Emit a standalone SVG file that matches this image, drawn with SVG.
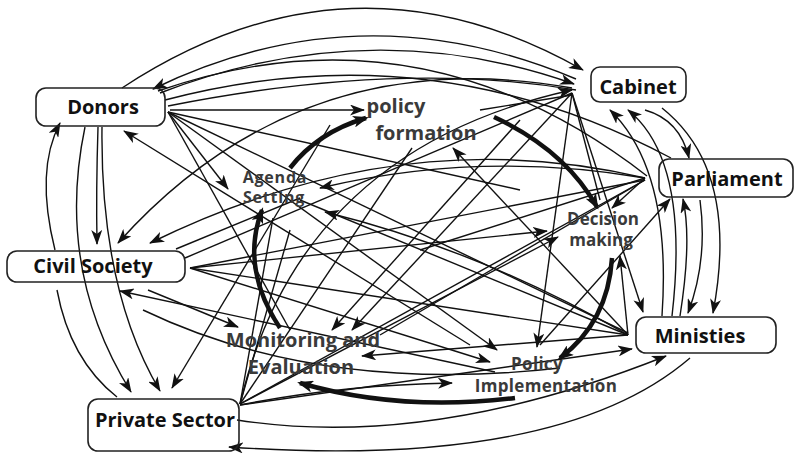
<svg xmlns="http://www.w3.org/2000/svg" width="794" height="457" viewBox="0 0 794 457">
  <style>
    .c { fill: none; stroke: #111; stroke-width: 1.4; }
    .a { marker-end: url(#ah); }
    .k { fill: none; stroke: #111; stroke-width: 4.5; marker-end: url(#ak); }
    .box { fill: none; stroke: #222; stroke-width: 1.6; }
    .actor { font-family: "Open Sans", "Liberation Sans", sans-serif; font-weight: 700; font-size: 20px; fill: #111; text-anchor: middle; }
    .stage { font-family: "Open Sans", "Liberation Sans", sans-serif; font-weight: 700; fill: #3a3a3a; text-anchor: middle; }
  </style>
  <defs>
    <marker id="ah" viewBox="0 0 15 11" refX="14" refY="5.5" markerWidth="15" markerHeight="11" orient="auto" markerUnits="userSpaceOnUse">
      <path d="M0,0 L15,5.5 L0,11 L4,5.5 Z" fill="#111"/>
    </marker>
    <marker id="ak" viewBox="0 0 16 12" refX="13" refY="6" markerWidth="16" markerHeight="12" orient="auto" markerUnits="userSpaceOnUse">
      <path d="M0,0 L16,6 L0,12 L4,6 Z" fill="#111"/>
    </marker>
  </defs>
  <rect width="794" height="457" fill="#fff"/>

  <g id="connectors">
    <!-- Donors -->
    <path class="c a" d="M122,88 Q350,-62 583,70"/>
    <path class="c a" d="M576,79 Q360,-12 153,89"/>
    <path class="c a" d="M160,93 Q370,12 574,84"/>
    <path class="c" d="M647,176 Q420,0 158,91"/>
    <path class="c" d="M165,100 Q430,30 671,158"/>
    <path class="c" d="M168,106 Q400,60 576,90"/>
    <path class="c a" d="M170,110 L364,110"/>
    <path class="c a" d="M168,112 L228,189"/>
    <path class="c" d="M168,112 L520,190"/>
    <path class="c a" d="M168,112 L497,350"/>
    <path class="c" d="M168,112 L628,333"/>
    <path class="c" d="M168,112 L290,330"/>
    <path class="c a" d="M85,127 Q55,270 131,392"/>
    <path class="c a" d="M98,127 Q96,190 97,244"/>
    <path class="c a" d="M102,127 Q100,290 160,391"/>
    <path class="c a" d="M55,250 Q35,170 60,123"/>
    <path class="c" d="M57,290 Q70,360 117,397"/>
    <path class="c a" d="M470,345 L124,131"/>
    <!-- Civil Society -->
    <path class="c a" d="M190,268 L547,231"/>
    <path class="c" d="M190,268 L645,180"/>
    <path class="c a" d="M148,290 L238,327"/>
    <path class="c a" d="M190,268 L490,362"/>
    <path class="c" d="M190,268 L628,335"/>
    <path class="c" d="M176,249 L300,198"/>
    <path class="c a" d="M495,372 Q300,330 120,291"/>
    <path class="c" d="M143,310 Q320,395 560,368"/>
    <path class="c" d="M185,258 L572,93"/>
    <!-- Private Sector -->
    <path class="c" d="M240,404 L273,218"/>
    <path class="c" d="M240,404 L290,230"/>
    <path class="c a" d="M240,404 L558,237"/>
    <path class="c" d="M240,404 L645,180"/>
    <path class="c a" d="M240,405 Q340,385 452,383"/>
    <path class="c a" d="M240,405 L632,349"/>
    <path class="c a" d="M237,420 Q430,450 666,356"/>
    <path class="c a" d="M690,358 Q560,470 229,447"/>
    <path class="c" d="M240,404 L412,148"/>
    <path class="c a" d="M240,404 Q300,150 572,90"/>
    <path class="c a" d="M330,125 L172,388"/>
    <!-- Cabinet -->
    <path class="c a" d="M572,93 L537,347"/>
    <path class="c a" d="M572,93 L352,330"/>
    <path class="c" d="M572,93 L600,200"/>
    <path class="c a" d="M572,88 Q300,40 118,243"/>
    <path class="c" d="M480,110 L572,95"/>
    <path class="c a" d="M572,93 L643,312"/>
    <!-- Parliament -->
    <path class="c a" d="M645,178 L612,208"/>
    <path class="c a" d="M645,178 Q480,150 320,188"/>
    <path class="c a" d="M645,178 Q400,120 150,243"/>
    <path class="c a" d="M520,120 L332,330"/>
    <path class="c" d="M380,335 L645,180"/>
    <path class="c" d="M645,178 L420,250"/>
    <!-- Ministies -->
    <path class="c a" d="M628,335 L362,356"/>
    <path class="c a" d="M628,335 L453,148"/>
    <path class="c a" d="M628,335 Q480,250 325,212"/>
    <path class="c a" d="M628,335 L620,256"/>
    <path class="c" d="M628,335 L300,200"/>
    <path class="c a" d="M540,345 L670,199"/>
    <!-- Cabinet / Parliament / Ministies arcs -->
    <path class="c a" d="M662,316 Q672,170 610,110"/>
    <path class="c a" d="M672,316 Q690,160 628,110"/>
    <path class="c a" d="M680,316 Q692,240 683,199"/>
    <path class="c a" d="M700,200 Q708,260 688,313"/>
    <path class="c a" d="M662,108 Q740,170 713,313"/>
    <path class="c a" d="M645,110 Q680,120 689,158"/>
  </g>

  <g id="cycle">
    <path class="k" d="M290,168 Q318,132 366,118"/>
    <path class="k" d="M494,117 Q565,150 597,207"/>
    <path class="k" d="M612,258 Q608,322 560,358"/>
    <path class="k" d="M515,398 Q400,412 300,383"/>
    <path class="k" d="M280,328 Q240,268 262,210"/>
  </g>

  <g id="donors">
    <rect class="box" x="36" y="88" width="129" height="38" rx="10"/>
    <text class="actor" x="103" y="114">Donors</text>
  </g>
  <g id="cabinet">
    <rect class="box" x="591" y="67" width="95" height="35" rx="9"/>
    <text class="actor" x="638" y="94">Cabinet</text>
  </g>
  <g id="parliament">
    <rect class="box" x="659" y="159" width="134" height="38" rx="10"/>
    <text class="actor" x="727" y="186">Parliament</text>
  </g>
  <g id="civil-society">
    <rect class="box" x="7" y="251" width="178" height="31" rx="10"/>
    <text class="actor" x="93" y="273">Civil Society</text>
  </g>
  <g id="private-sector">
    <rect class="box" x="88" y="399" width="151" height="52" rx="10"/>
    <text class="actor" x="165" y="427">Private Sector</text>
  </g>
  <g id="ministies">
    <rect class="box" x="636" y="317" width="140" height="36" rx="10"/>
    <text class="actor" x="700" y="343">Ministies</text>
  </g>

  <g id="policy-formation">
    <text class="stage" font-size="20" x="396" y="113">policy</text>
    <text class="stage" font-size="20" x="426" y="140">formation</text>
  </g>
  <g id="agenda-setting">
    <text class="stage" font-size="16" letter-spacing="0.8" x="275" y="183">Agenda</text>
    <text class="stage" font-size="16" letter-spacing="0.8" x="274" y="203">Setting</text>
  </g>
  <g id="decision-making">
    <text class="stage" font-size="17" x="603" y="225">Decision</text>
    <text class="stage" font-size="17" x="601" y="246">making</text>
  </g>
  <g id="monitoring-evaluation">
    <text class="stage" font-size="20" x="303" y="347">Monitoring and</text>
    <text class="stage" font-size="20" x="301" y="374">Evaluation</text>
  </g>
  <g id="policy-implementation">
    <text class="stage" font-size="17" letter-spacing="0.3" x="537" y="370">Policy</text>
    <text class="stage" font-size="17" letter-spacing="0.3" x="546" y="392">Implementation</text>
  </g>
</svg>
